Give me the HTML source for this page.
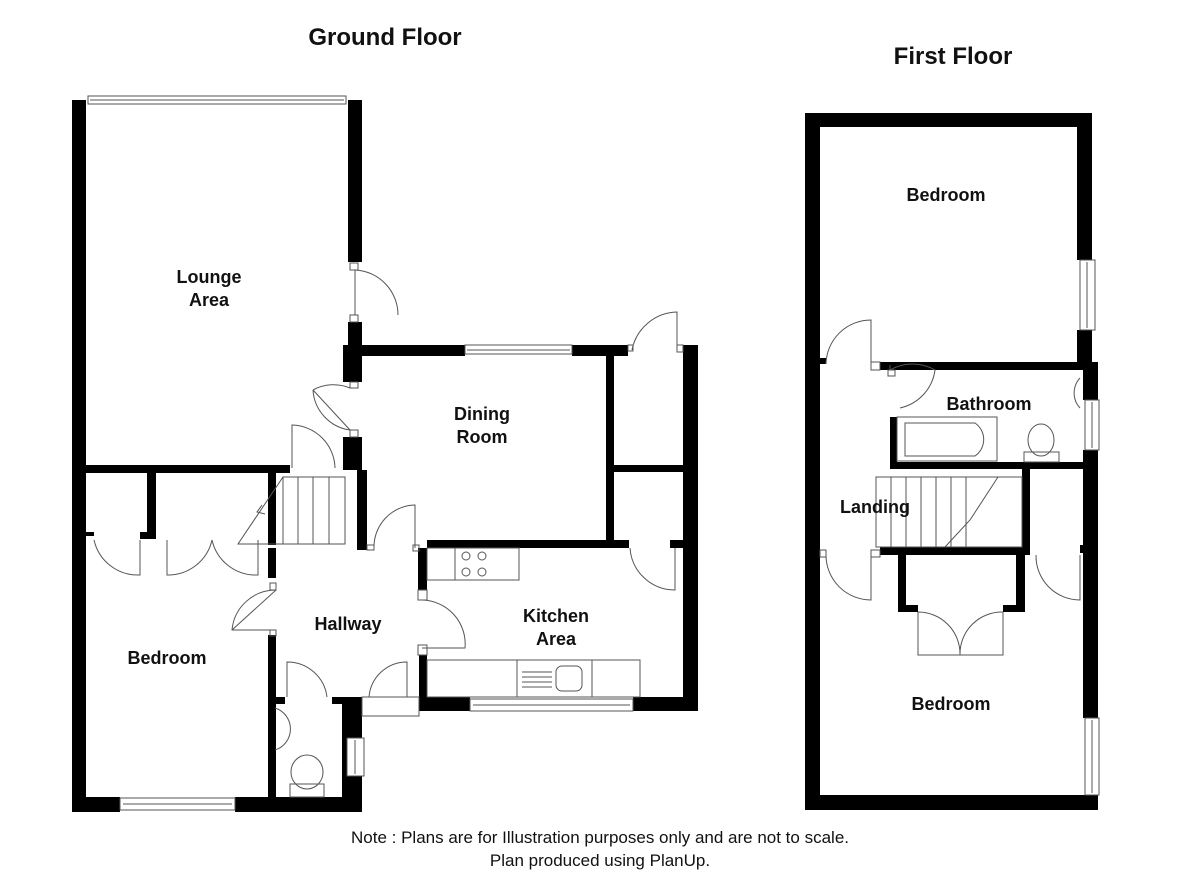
<!DOCTYPE html>
<html><head><style>
html,body{margin:0;padding:0;background:#fff;}
svg{display:block}
text{font-family:"Liberation Sans",sans-serif;font-weight:bold;fill:#111;}
</style></head><body>
<svg width="1200" height="873" viewBox="0 0 1200 873" xmlns="http://www.w3.org/2000/svg">
<g fill="#000">
<rect x="72" y="100" width="14" height="712"/>
<rect x="72" y="797" width="48" height="15"/>
<rect x="235" y="797" width="127" height="15"/>
<rect x="348" y="100" width="14" height="162"/>
<rect x="348" y="322" width="14" height="25"/>
<rect x="343" y="345" width="19" height="37"/>
<rect x="362" y="345" width="103" height="11"/>
<rect x="572" y="345" width="56" height="11"/>
<rect x="683" y="345" width="15" height="365"/>
<rect x="606" y="356" width="8" height="189"/>
<rect x="614" y="465" width="69" height="7"/>
<rect x="86" y="465" width="204" height="8"/>
<rect x="268" y="465" width="8" height="80"/>
<rect x="343" y="437" width="19" height="33"/>
<rect x="357" y="470" width="10" height="80"/>
<rect x="147" y="473" width="9" height="62"/>
<rect x="86" y="532" width="8" height="4"/>
<rect x="140" y="532" width="16" height="7"/>
<rect x="427" y="540" width="187" height="8"/>
<rect x="606" y="540" width="23" height="8"/>
<rect x="670" y="540" width="13" height="8"/>
<rect x="418" y="548" width="9" height="42"/>
<rect x="268" y="548" width="8" height="30"/>
<rect x="268" y="635" width="8" height="177"/>
<rect x="275" y="697" width="10" height="7"/>
<rect x="332" y="697" width="30" height="7"/>
<rect x="342" y="697" width="20" height="115"/>
<rect x="419" y="655" width="8" height="55"/>
<rect x="419" y="697" width="51" height="14"/>
<rect x="633" y="697" width="65" height="14"/>
<rect x="805" y="113" width="287" height="14"/>
<rect x="805" y="113" width="15" height="697"/>
<rect x="805" y="795" width="293" height="15"/>
<rect x="1077" y="113" width="15" height="147"/>
<rect x="1077" y="330" width="15" height="32"/>
<rect x="1083" y="362" width="15" height="38"/>
<rect x="1083" y="450" width="15" height="268"/>
<rect x="880" y="362" width="205" height="8"/>
<rect x="820" y="358" width="6" height="6"/>
<rect x="890" y="417" width="7" height="51"/>
<rect x="890" y="462" width="193" height="7"/>
<rect x="1022" y="468" width="8" height="87"/>
<rect x="880" y="547" width="150" height="8"/>
<rect x="898" y="555" width="8" height="57"/>
<rect x="898" y="605" width="20" height="7"/>
<rect x="1016" y="555" width="9" height="57"/>
<rect x="1003" y="605" width="22" height="7"/>
<rect x="1080" y="545" width="5" height="8"/>
</g>
<g fill="#fff" stroke="#555" stroke-width="1">
<rect x="88" y="96" width="258" height="8"/><line x1="90" y1="100" x2="344" y2="100"/>
<rect x="465" y="345" width="107" height="9"/><line x1="467" y1="350" x2="570" y2="350"/>
<rect x="470" y="699" width="163" height="12"/><line x1="473" y1="705" x2="630" y2="705"/>
<rect x="120" y="798" width="115" height="12"/><line x1="123" y1="804" x2="232" y2="804"/>
<rect x="347" y="738" width="17" height="38"/><line x1="355" y1="740" x2="355" y2="774"/>
<rect x="1080" y="260" width="15" height="70"/><line x1="1087" y1="262" x2="1087" y2="328"/>
<rect x="1085" y="400" width="14" height="50"/><line x1="1092" y1="402" x2="1092" y2="448"/>
<rect x="1085" y="718" width="14" height="77"/><line x1="1092" y1="720" x2="1092" y2="793"/>
</g>
<g fill="none" stroke="#555" stroke-width="1">
<path d="M355 270 L355 315 M355 270 A45 45 0 0 1 398 315"/>
<rect x="350" y="263" width="8" height="7"/><rect x="350" y="315" width="8" height="7"/>
<path d="M350 430 L313 390 M350 388 A43 43 0 0 0 313 390 M313 390 A43 43 0 0 0 350 430"/>
<rect x="350" y="382" width="8" height="6"/><rect x="350" y="430" width="8" height="7"/>
<path d="M632 350 A47 47 0 0 1 677 312 L677 350"/>
<rect x="628" y="345" width="5" height="6"/><rect x="677" y="345" width="6" height="7"/>
<path d="M292 468 L292 425 A44 44 0 0 1 335 468"/>
<path d="M374 548 A42 42 0 0 1 415 505 L415 548"/>
<rect x="367" y="545" width="7" height="5"/><rect x="413" y="545" width="6" height="6"/>
<path d="M276 590 L232 630 M276 590 A44 44 0 0 0 232 630 L276 630"/>
<rect x="270" y="583" width="6" height="7"/><rect x="270" y="630" width="6" height="6"/>
<path d="M422 600 A44 44 0 0 1 465 648 L422 648"/>
<rect x="418" y="590" width="9" height="10"/><rect x="418" y="645" width="9" height="10"/>
<path d="M287 697 L287 662 A40 40 0 0 1 327 697"/>
<path d="M369 697 A38 38 0 0 1 407 662 L407 697"/>
<path d="M362 697 L419 697 L419 716 L362 716 Z"/>
<path d="M94 540 A45 45 0 0 0 140 575 L140 540"/>
<path d="M167 540 L167 575 A45 45 0 0 0 212 540 A45 45 0 0 0 258 575 L258 540"/>
<path d="M630 548 A45 45 0 0 0 675 590 L675 548"/>
<path d="M826 364 A45 45 0 0 1 871 320 L871 364"/>
<rect x="871" y="362" width="9" height="8"/>
<path d="M890 370 L890 365 M890 370 A45 45 0 0 1 935 370 A45 45 0 0 1 900 408"/>
<rect x="888" y="370" width="7" height="6"/>
<path d="M826 555 A45 45 0 0 0 871 600 L871 555"/>
<rect x="820" y="550" width="6" height="7"/><rect x="871" y="550" width="9" height="7"/>
<path d="M918 612 L918 655 L1003 655 L1003 612 M918 612 A42 42 0 0 1 960 655 M1003 612 A42 42 0 0 0 960 655"/>
<path d="M1036 555 A44 44 0 0 0 1080 600 L1080 555"/>
<rect x="283" y="477" width="62" height="67"/>
<line x1="298" y1="477" x2="298" y2="544"/><line x1="313" y1="477" x2="313" y2="544"/><line x1="329" y1="477" x2="329" y2="544"/>
<path d="M283 477 L238 544 L283 544 M262 505 L257 512 L265 514"/>
<rect x="876" y="477" width="146" height="70"/>
<path d="M876 477 L998 477 L970 520 L945 547"/>
<line x1="891" y1="477" x2="891" y2="547"/><line x1="906" y1="477" x2="906" y2="547"/><line x1="921" y1="477" x2="921" y2="547"/><line x1="936" y1="477" x2="936" y2="547"/><line x1="951" y1="477" x2="951" y2="547"/><line x1="966" y1="477" x2="966" y2="547"/>
<rect x="427" y="548" width="92" height="32"/><rect x="455" y="548" width="64" height="32"/>
<circle cx="466" cy="556" r="4"/><circle cx="482" cy="556" r="4"/><circle cx="466" cy="572" r="4"/><circle cx="482" cy="572" r="4"/>
<rect x="427" y="660" width="213" height="37"/><rect x="517" y="660" width="75" height="37"/>
<rect x="556" y="666" width="26" height="25" rx="6"/>
<path d="M522 672 H552 M522 677 H552 M522 682 H552 M522 687 H552"/>
<path d="M275 708 A22 22 0 0 1 275 750"/><ellipse cx="307" cy="772" rx="16" ry="17"/><rect x="290" y="784" width="34" height="13"/>
<rect x="897" y="417" width="100" height="44"/><path d="M905 423 H975 A20 20 0 0 1 975 456 H905 Z"/>
<path d="M1080 378 A22 22 0 0 0 1080 408"/>
<ellipse cx="1041" cy="440" rx="13" ry="16"/><rect x="1024" y="452" width="35" height="10"/>
</g>
<text x="385" y="45" font-size="24" text-anchor="middle">Ground Floor</text>
<text x="953" y="64" font-size="24" text-anchor="middle">First Floor</text>
<g font-size="18" text-anchor="middle">
<text x="209" y="283">Lounge</text><text x="209" y="306">Area</text>
<text x="482" y="420">Dining</text><text x="482" y="443">Room</text>
<text x="348" y="630">Hallway</text>
<text x="556" y="622">Kitchen</text><text x="556" y="645">Area</text>
<text x="167" y="664">Bedroom</text>
<text x="946" y="201">Bedroom</text>
<text x="989" y="410">Bathroom</text>
<text x="875" y="513">Landing</text>
<text x="951" y="710">Bedroom</text>
</g>
<g font-size="17" text-anchor="middle">
<text x="600" y="843" style="font-weight:normal">Note : Plans are for Illustration purposes only and are not to scale.</text>
<text x="600" y="866" style="font-weight:normal">Plan produced using PlanUp.</text>
</g>
</svg>
</body></html>
